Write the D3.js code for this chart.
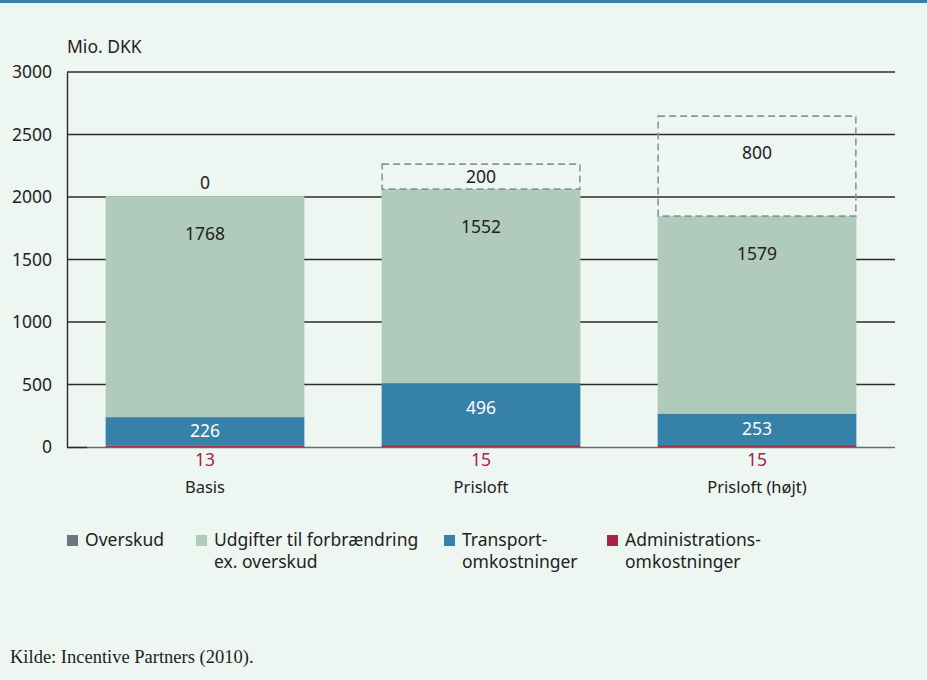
<!DOCTYPE html>
<html><head><meta charset="utf-8">
<script src="https://cdn.jsdelivr.net/npm/d3@7"></script>
<style>
html,body{margin:0;padding:0;background:#eef6f1;}
svg{display:block;}
</style></head>
<body>
<svg id="c" width="927" height="680" style="font-family:'Noto Sans','Open Sans',sans-serif"></svg>
<script>
const categories = ["Basis", "Prisloft", "Prisloft (højt)"];
const admin = [13, 15, 15];
const transport = [226, 496, 253];
const udgifter = [1768, 1552, 1579];
const overskud = [0, 200, 800];
const yTicks = [0, 500, 1000, 1500, 2000, 2500, 3000];
const seriesNames = ["Overskud", "Udgifter til forbrændring|ex. overskud", "Transport-|omkostninger", "Administrations-|omkostninger"];
const seriesColors = ["#6b7780", "#b0cabb", "#3681a8", "#a8224a"];

(function(){
const FS = 17.5;
const svg = d3.select("#c");
svg.append("rect").attr("x",0).attr("y",0).attr("width",927).attr("height",680).attr("fill","#eef6f1");
svg.append("rect").attr("x",0).attr("y",0).attr("width",927).attr("height",3).attr("fill","#3a7fa6");

const pL = 67, pR = 895, pT = 72, pB = 447;
const x = d3.scaleBand().domain(categories).range([pL, pR]).paddingInner(0.28).paddingOuter(0.14);
const y = d3.scaleLinear().domain([0, 3000]).range([pB, pT]);

// gridlines
svg.append("g").selectAll("line").data(yTicks.filter(d => d > 0)).join("line")
  .attr("x1", pL).attr("x2", pR).attr("y1", d => y(d)).attr("y2", d => y(d))
  .attr("stroke", "#2b2b2b").attr("stroke-width", 1.4);

// y axis
const yAxis = d3.axisLeft(y).tickValues(yTicks).tickFormat(d3.format("d")).tickSize(0).tickPadding(15);
const ga = svg.append("g").attr("transform", `translate(${pL},0)`).call(yAxis);
ga.select(".domain").attr("stroke", "#2b2b2b").attr("stroke-width", 1.4);
ga.selectAll("text").attr("font-size", FS).attr("fill", "#222").style("font-family", "'Noto Sans',sans-serif");

svg.append("text").attr("x", pL).attr("y", 53).attr("font-size", FS).attr("fill", "#222").text("Mio. DKK");

// stacked data
const rows = categories.map((c, i) => ({cat: c, admin: admin[i], transport: transport[i], udgifter: udgifter[i], overskud: overskud[i]}));
const keys = ["admin", "transport", "udgifter", "overskud"];
const stack = d3.stack().keys(keys)(rows);
const colorMap = {admin: "#a8224a", transport: "#3681a8", udgifter: "#b0cabb"};

stack.forEach(layer => {
  const k = layer.key;
  const g = svg.append("g");
  layer.forEach(d => {
    const x0 = x(d.data.cat), w = x.bandwidth();
    const yTop = y(d[1]), yBot = y(d[0]), h = yBot - yTop;
    if (k === "overskud") {
      if (h > 0) {
        g.append("rect").attr("x", x0 + 0.5).attr("y", yTop).attr("width", w - 1).attr("height", h)
          .attr("fill", "none").attr("stroke", "#8a969c").attr("stroke-width", 1.6).attr("stroke-dasharray", "7,4");
        g.append("text").attr("x", x0 + w / 2).attr("y", yTop + Math.min(h / 2, 37)).attr("dy", "0.35em")
          .attr("text-anchor", "middle").attr("font-size", FS).attr("fill", "#222").text(d.data[k]);
      } else {
        g.append("text").attr("x", x0 + w / 2).attr("y", yTop - 13).attr("dy", "0.35em")
          .attr("text-anchor", "middle").attr("font-size", FS).attr("fill", "#222").text(d.data[k]);
      }
    } else {
      g.append("rect").attr("x", x0).attr("y", yTop).attr("width", w).attr("height", h).attr("fill", colorMap[k]);
      if (k === "admin") {
        g.append("text").attr("x", x0 + w / 2).attr("y", pB + 13).attr("dy", "0.35em")
          .attr("text-anchor", "middle").attr("font-size", FS).attr("fill", "#a8224a").text(d.data[k]);
      } else if (k === "transport") {
        g.append("text").attr("x", x0 + w / 2).attr("y", yTop + Math.min(h / 2, 25)).attr("dy", "0.35em")
          .attr("text-anchor", "middle").attr("font-size", FS).attr("fill", "#ffffff").text(d.data[k]);
      } else {
        g.append("text").attr("x", x0 + w / 2).attr("y", yTop + Math.min(h / 2, 38)).attr("dy", "0.35em")
          .attr("text-anchor", "middle").attr("font-size", FS).attr("fill", "#222").text(d.data[k]);
      }
    }
  });
});

// baseline
svg.append("line").attr("x1", pL).attr("x2", pR).attr("y1", pB + 0.5).attr("y2", pB + 0.5)
  .attr("stroke", "#6a6a6a").attr("stroke-width", 1.4);
svg.append("line").attr("x1", pL).attr("x2", pL + 20).attr("y1", pB + 0.5).attr("y2", pB + 0.5)
  .attr("stroke", "#2b2b2b").attr("stroke-width", 1.4);

// category labels
svg.append("g").selectAll("text").data(categories).join("text")
  .attr("x", d => x(d) + x.bandwidth() / 2).attr("y", 487).attr("dy", "0.35em")
  .attr("text-anchor", "middle").attr("font-size", 16.5).attr("fill", "#222").text(d => d);

// legend
const legX = [67, 196, 444, 607];
const lg = svg.append("g");
seriesNames.forEach((n, i) => {
  lg.append("rect").attr("x", legX[i]).attr("y", 535).attr("width", 11).attr("height", 11).attr("fill", seriesColors[i]);
  const t = lg.append("text").attr("x", legX[i] + 18).attr("y", 546).attr("font-size", FS).attr("fill", "#222");
  n.split("|").forEach((line, j) => {
    t.append("tspan").attr("x", legX[i] + 18).attr("dy", j === 0 ? 0 : 22).text(line);
  });
});

svg.append("text").attr("x", 10).attr("y", 663).attr("font-size", 18.5).attr("fill", "#222")
  .style("font-family", "'Liberation Serif',serif").text("Kilde: Incentive Partners (2010).");
})();
</script>
</body></html>
